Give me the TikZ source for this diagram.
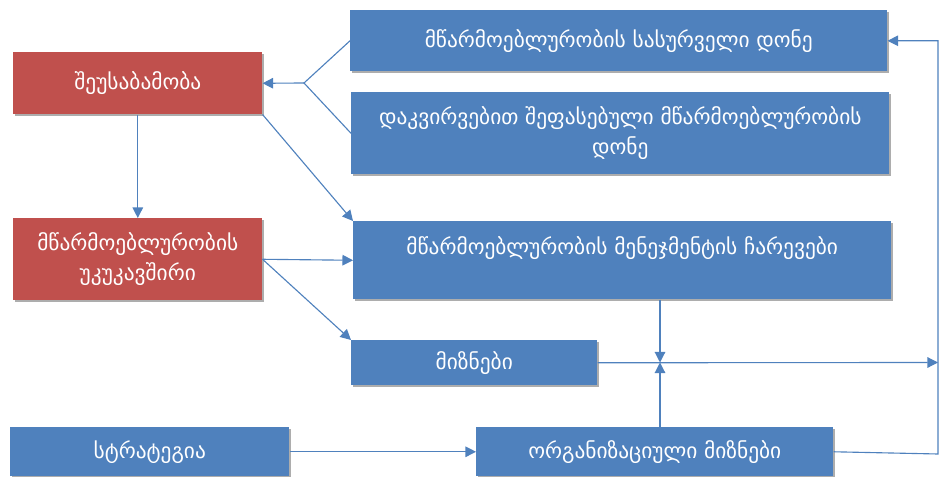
\documentclass[tikz,border=0pt]{standalone}
\usepackage{fontspec}
\setmainfont{DejaVu Sans}
\usetikzlibrary{positioning,calc,shadows,arrows.meta}
\definecolor{boxblue}{HTML}{4F81BD}
\definecolor{boxred}{HTML}{C0504D}
\newcommand{\px}{0.025cm}

\begin{document}
\begin{tikzpicture}[x=\px, y=-\px]
    \tikzset{bluebox/.style={
        fill=boxblue, text=white, font=\fontsize{15.2}{21.5}\selectfont, inner sep=0pt,
        align=center, anchor=north west,
        drop shadow={shadow xshift=1.5pt, shadow yshift=-1.5pt, fill=black!40, opacity=0.8}
      },
      redbox/.style={bluebox, fill=boxred},
      arrowline/.style={draw=boxblue, line width=0.8pt, -{Triangle[length=7.5pt, width=7.5pt]}},
      plainline/.style={draw=boxblue, line width=0.8pt}
    }
    \useasboundingbox (0,0) rectangle (940,477);

    \node[redbox, minimum width=249*\px, minimum height=62*\px] (A) at (13,52) {შეუსაბამობა};
    \node[redbox, minimum width=249*\px, minimum height=82*\px] (B) at (13,218) {მწარმოებლურობის\\უკუკავშირი};
    \node[bluebox, minimum width=537*\px, minimum height=61*\px] (C) at (350,10) {მწარმოებლურობის სასურველი დონე};
    \node[bluebox, minimum width=538*\px, minimum height=82*\px] (D) at (351,92) {დაკვირვებით შეფასებული მწარმოებლურობის\\დონე};
    \node[bluebox, minimum width=538*\px, minimum height=78*\px] (E) at (353,221) {მწარმოებლურობის მენეჯმენტის ჩარევები\\\mbox{}};
    \node[bluebox, minimum width=246*\px, minimum height=45*\px] (F) at (351,340) {მიზნები};
    \node[bluebox, minimum width=279*\px, minimum height=49*\px] (G) at (10,427) {სტრატეგია};
    \node[bluebox, minimum width=357*\px, minimum height=49*\px] (H) at (476,427) {ორგანიზაციული მიზნები};

    \coordinate (M) at (304,83);
    \coordinate (J) at (660,362.5);
    \coordinate (R) at (938,362.5);
    \coordinate (K) at (938,454);

    \draw[plainline] (C.west) -- (M) -- (D.west);
    \draw[arrowline] (M) -- (A.east);
    \draw[arrowline] (A.south) -- (B.north);
    \draw[arrowline] (A.south east) -- (E.north west);
    \draw[arrowline] (B.east) -- (E.west);
    \draw[arrowline] (B.east) -- (F.north west);
    \draw[arrowline] (E.south -| J) -- (J);
    \draw[arrowline] (H.north -| J) -- (J);
    \draw[arrowline] (F.east) -- (R);
    \draw[arrowline] (G.east) -- (H.west);
    \draw[arrowline] (H.east) -- (K) |- (C.east);
  \end{tikzpicture}
\end{document}
